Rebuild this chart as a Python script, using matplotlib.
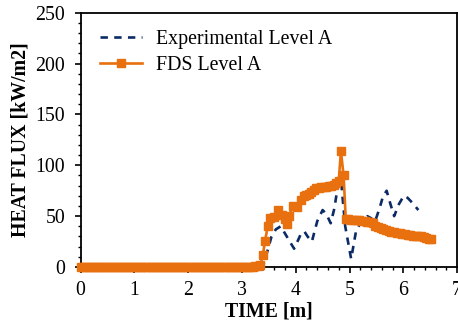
import matplotlib
matplotlib.use("Agg")
import matplotlib.pyplot as plt
from matplotlib.ticker import MultipleLocator

plt.rcParams['font.family'] = ['Liberation Serif', 'DejaVu Serif']

# Experimental heat flux, level A
exp_time = [0.0, 3.35, 3.40, 3.47, 3.55, 3.63, 3.72, 3.80, 3.90, 3.97, 4.04, 4.10,
            4.16, 4.22, 4.30, 4.40, 4.50, 4.57, 4.65, 4.72, 4.78, 4.84, 4.92, 5.03,
            5.12, 5.22, 5.33, 5.40, 5.47, 5.56, 5.62, 5.69, 5.76, 5.83, 5.92, 6.01,
            6.08, 6.17, 6.28]
exp_flux = [0, 0, 2, 15, 30, 37, 40, 33, 24, 18, 26, 33,
            35, 30, 25, 45, 56, 52, 43, 58, 79, 86, 40, 8,
            35, 45, 50, 48, 44, 58, 69, 75, 62, 50, 62, 70,
            68, 63, 56]

# FDS prediction, level A
fds_time = [0.00, 0.05, 0.10, 0.15, 0.20, 0.25, 0.30, 0.35, 0.40, 0.45,
            0.50, 0.55, 0.60, 0.65, 0.70, 0.75, 0.80, 0.85, 0.90, 0.95,
            1.00, 1.05, 1.10, 1.15, 1.20, 1.25, 1.30, 1.35, 1.40, 1.45,
            1.50, 1.55, 1.60, 1.65, 1.70, 1.75, 1.80, 1.85, 1.90, 1.95,
            2.00, 2.05, 2.10, 2.15, 2.20, 2.25, 2.30, 2.35, 2.40, 2.45,
            2.50, 2.55, 2.60, 2.65, 2.70, 2.75, 2.80, 2.85, 2.90, 2.95,
            3.00, 3.05, 3.10, 3.15, 3.20, 3.25, 3.30, 3.34,
            3.39, 3.43, 3.48, 3.53, 3.60, 3.67, 3.74, 3.80, 3.84, 3.88, 3.94,
            4.03, 4.10, 4.15, 4.19, 4.24, 4.29, 4.34, 4.38, 4.43, 4.47, 4.52,
            4.57, 4.62, 4.66, 4.71, 4.75, 4.80, 4.84, 4.89, 4.93,
            4.98, 5.03, 5.08, 5.13, 5.18, 5.23, 5.28, 5.33, 5.38, 5.43, 5.48,
            5.53, 5.58, 5.63, 5.68, 5.73, 5.78, 5.83, 5.88, 5.93, 5.98, 6.03,
            6.08, 6.13, 6.18, 6.23, 6.28, 6.33, 6.38, 6.43, 6.48, 6.51]
fds_flux = [0, 0, 0, 0, 0, 0, 0, 0, 0, 0,
            0, 0, 0, 0, 0, 0, 0, 0, 0, 0,
            0, 0, 0, 0, 0, 0, 0, 0, 0, 0,
            0, 0, 0, 0, 0, 0, 0, 0, 0, 0,
            0, 0, 0, 0, 0, 0, 0, 0, 0, 0,
            0, 0, 0, 0, 0, 0, 0, 0, 0, 0,
            0, 0, 0, 0, 0, 0.5, 1, 1.5,
            12, 26, 40, 48, 49.5, 56, 51, 47, 42, 50, 60,
            59, 66, 70, 71, 72, 74, 76, 77.5, 78, 78.5, 79,
            79, 80, 80, 81, 83, 85, 114, 90, 47,
            47, 46.5, 46.5, 46, 46, 45.5, 45, 44.5, 44, 43, 40.5,
            39, 38, 37, 36.5, 35.5, 34.5, 34, 33.5, 33, 32.5, 32,
            31.5, 31, 30.5, 30.5, 30, 30, 29.5, 28.5, 28, 27.5]

x_ticks = [0, 1, 2, 3, 4, 5, 6, 7]
y_ticks = [0, 50, 100, 150, 200, 250]

navy = '#0B2A66'
orange = '#E8700F'
fs = 14.3

fig = plt.figure(figsize=(4.58, 3.28), dpi=100)
ax = fig.add_axes([0.176, 0.186, 0.822, 0.775])

ax.plot(exp_time, exp_flux, color=navy, lw=1.9, dashes=(2.8, 2.4),
        label='Experimental Level A', zorder=2)
ax.plot(fds_time, fds_flux, color=orange, lw=1.9, marker='s', markersize=5.5,
        label='FDS Level A', zorder=3, clip_on=False)

ax.set_xlim(0, 7)
ax.set_ylim(0, 250)
ax.set_xticks(x_ticks)
ax.set_yticks(y_ticks)
ax.xaxis.set_minor_locator(MultipleLocator(0.2))
ax.yaxis.set_minor_locator(MultipleLocator(10))
ax.tick_params(axis='both', which='major', direction='out', length=4, width=1.2,
               labelsize=fs, colors='black')
ax.tick_params(axis='x', which='major', pad=6)
ax.tick_params(axis='y', which='major', pad=7)
ax.tick_params(axis='both', which='minor', direction='out', length=2.5, width=1.0)
ax.tick_params(top=False, right=False, which='both')
for sp in ax.spines.values():
    sp.set_linewidth(1.3)

ax.set_xlabel('TIME [m]', fontsize=fs, fontweight='bold', labelpad=1)
ax.set_ylabel('HEAT FLUX [kW/m2]', fontsize=fs, fontweight='bold', labelpad=4)

ax.legend(loc='upper left', bbox_to_anchor=(0.03, 0.965), frameon=False,
          fontsize=fs, handlelength=2.1, handletextpad=0.75, labelspacing=0.38,
          borderaxespad=0.0)

fig.savefig('out.png', dpi=100)
